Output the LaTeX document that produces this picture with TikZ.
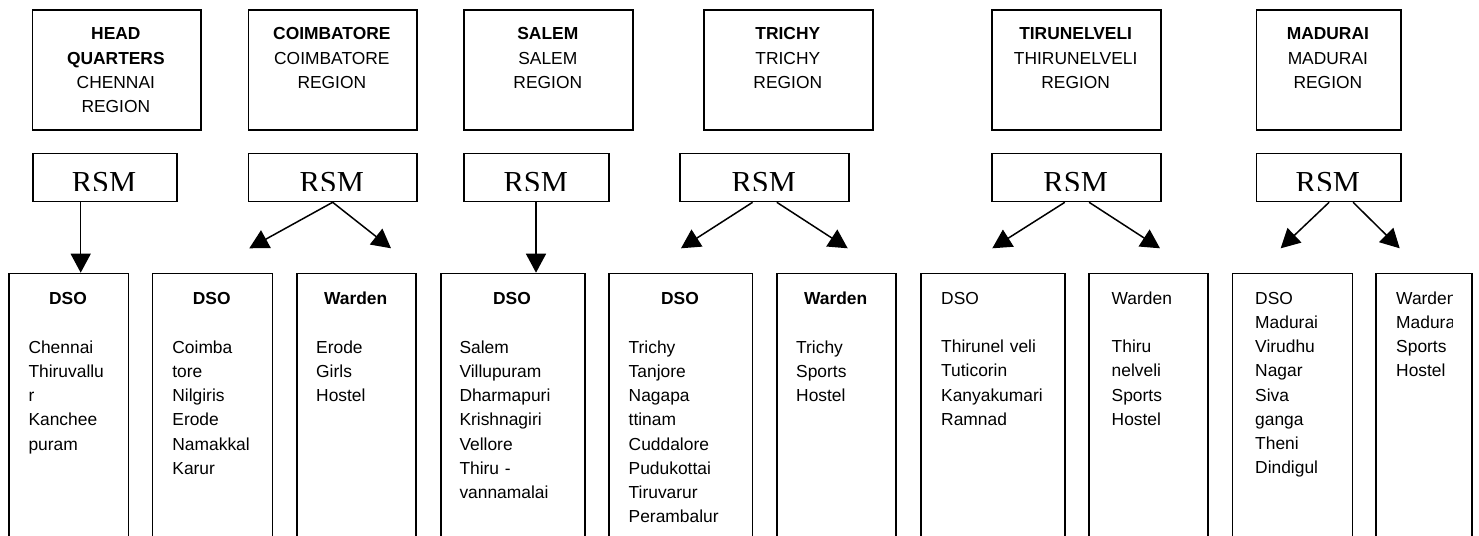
\documentclass[tikz,border=0pt]{standalone}
\usepackage{fontspec}
\setmainfont{Liberation Sans}
\newfontfamily\rsmfont{Liberation Serif}
\usetikzlibrary{arrows.meta}
\begin{document}
\begin{tikzpicture}[x=1pt,y=-1pt,
  box/.style={draw,line width=1.6pt,inner sep=0pt,anchor=north west},
  ttl/.style={inner sep=0pt,anchor=base,align=center,font=\fontsize{17.4}{24.2}\selectfont},
  lst/.style={inner sep=0pt,anchor=base west,align=left,text width=118pt,font=\fontsize{17.4}{24.2}\selectfont},
  hdr/.style={inner sep=0pt,anchor=base,font=\fontsize{17.4}{24.2}\selectfont\bfseries},
  rsmtext/.style={inner sep=0pt,anchor=base,font=\fontsize{30.5}{30.5}\selectfont\rsmfont},
  arr/.style={line width=1.5pt,-{Triangle[length=19pt,width=20pt]}}]

\useasboundingbox (0,0) rectangle (1479,535);
\clip (0,0) rectangle (1479,535);

% ---------- top region boxes ----------
\node[box,minimum width=168.3pt,minimum height=119.7pt] (t1) at (31.7,9.3) {};
\node[box,minimum width=168.3pt,minimum height=119.7pt] (t2) at (247.7,9.3) {};
\node[box,minimum width=169pt,minimum height=119.7pt] (t3) at (463.3,9.3) {};
\node[box,minimum width=169pt,minimum height=119.7pt] (t4) at (703.3,9.3) {};
\node[box,minimum width=168.7pt,minimum height=119.7pt] (t5) at (991.3,9.3) {};
\node[box,minimum width=144.3pt,minimum height=119.7pt] (t6) at (1255.7,9.3) {};

\node[ttl,text width=160pt] (t1t) at (115.85,40) {\textbf{HEAD}\\\textbf{QUARTERS}\\CHENNAI\\REGION};
\node[ttl,text width=160pt] (t2t) at (331.85,40) {\textbf{COIMBATORE}\\COIMBATORE\\REGION};
\node[ttl,text width=160pt] (t3t) at (547.8,40) {\textbf{SALEM}\\SALEM\\REGION};
\node[ttl,text width=160pt] (t4t) at (787.8,40) {\textbf{TRICHY}\\TRICHY\\REGION};
\node[ttl,text width=160pt] (t5t) at (1075.65,40) {\textbf{TIRUNELVELI}\\THIRUNELVELI\\REGION};
\node[ttl,text width=140pt] (t6t) at (1327.85,40) {\textbf{MADURAI}\\MADURAI\\REGION};

% ---------- RSM boxes ----------
\node[box,minimum width=144pt,minimum height=48pt] (r1) at (32,152.7) {};
\node[box,minimum width=168.3pt,minimum height=48pt] (r2) at (247.7,152.7) {};
\node[box,minimum width=145pt,minimum height=48pt] (r3) at (463.3,152.7) {};
\node[box,minimum width=169pt,minimum height=48pt] (r4) at (679.3,152.7) {};
\node[box,minimum width=168.7pt,minimum height=48pt] (r5) at (991.3,152.7) {};
\node[box,minimum width=144.3pt,minimum height=48pt] (r6) at (1255.7,152.7) {};

\begin{scope}
  \clip (0,150) rectangle (1479,190);
  \node[rsmtext] (r1t) at (104,192.9) {RSM};
  \node[rsmtext] (r2t) at (331.85,192.9) {RSM};
  \node[rsmtext] (r3t) at (535.8,192.9) {RSM};
  \node[rsmtext] (r4t) at (763.8,192.9) {RSM};
  \node[rsmtext] (r5t) at (1075.65,192.9) {RSM};
  \node[rsmtext] (r6t) at (1327.85,192.9) {RSM};
\end{scope}

% ---------- bottom boxes ----------
\node[box,minimum width=119.4pt,minimum height=300pt] (b1) at (8.3,272.7) {};
\node[box,minimum width=120pt,minimum height=300pt] (b2) at (151.7,272.7) {};
\node[box,minimum width=119.3pt,minimum height=300pt] (b3) at (296,272.7) {};
\node[box,minimum width=144pt,minimum height=300pt] (b4) at (440,272.7) {};
\node[box,minimum width=143.4pt,minimum height=300pt] (b5) at (608.3,272.7) {};
\node[box,minimum width=119.3pt,minimum height=300pt] (b6) at (776,272.7) {};
\node[box,minimum width=144pt,minimum height=300pt] (b7) at (920,272.7) {};
\node[box,minimum width=119pt,minimum height=300pt] (b8) at (1088.3,272.7) {};
\node[box,minimum width=120pt,minimum height=300pt] (b9) at (1231.7,272.7) {};
\node[box,minimum width=96pt,minimum height=300pt] (b10) at (1375,272.7) {};

\node[hdr] (b1h) at (68,304.3) {DSO};
\node[hdr] (b2h) at (211.7,304.3) {DSO};
\node[hdr] (b3h) at (355.65,304.3) {Warden};
\node[hdr] (b4h) at (512,304.3) {DSO};
\node[hdr] (b5h) at (680,304.3) {DSO};
\node[hdr] (b6h) at (835.65,304.3) {Warden};

\node[lst] (b1l) at (28.3,353.3) {Chennai\\Thiruvallu\\r\\Kanchee\\puram};
\node[lst] (b2l) at (172.2,353.3) {Coimba\\tore\\Nilgiris\\Erode\\Namakkal\\Karur};
\node[lst] (b3l) at (316,353.3) {Erode\\Girls\\Hostel};
\node[lst] (b4l) at (459.3,353.3) {Salem\\Villupuram\\Dharmapuri\\Krishnagiri\\Vellore\\Thiru -\\vannamalai};
\node[lst] (b5l) at (628.5,353.3) {Trichy\\Tanjore\\Nagapa\\ttinam\\Cuddalore\\Pudukottai\\Tiruvarur\\Perambalur};
\node[lst] (b6l) at (796,353.3) {Trichy\\Sports\\Hostel};
\node[lst] (b7l) at (941,304.3) {DSO\\[24.2pt]Thirunel veli\\Tuticorin\\Kanyakumari\\Ramnad};
\node[lst] (b8l) at (1111.5,304.3) {Warden\\[24.2pt]Thiru\\nelveli\\Sports\\Hostel};
\node[lst] (b9l) at (1255,304.3) {DSO\\Madurai\\Virudhu\\Nagar\\Siva\\ganga\\Theni\\Dindigul};
\begin{scope}
  \clip (1375,272.7) rectangle (1452,535);
  \node[lst] (b10l) at (1396,304.3) {Warden\\Madurai\\Sports\\Hostel};
\end{scope}

% ---------- arrows ----------
\coordinate (e1) at (80.7,272.7);
\coordinate (e2a) at (249.3,248.3);
\coordinate (e2b) at (391,248.3);
\coordinate (e3) at (536,272.7);
\coordinate (e4a) at (681,248.3);
\coordinate (e4b) at (847.7,248.3);
\coordinate (e5a) at (992.3,248.3);
\coordinate (e5b) at (1160,248.3);
\coordinate (e6a) at (1280.7,248.3);
\coordinate (e6b) at (1399.7,248.3);

\draw[arr] (r1.south -| e1) -- (e1);
\draw[arr] (r2.south) -- (e2a);
\draw[arr] (r2.south) -- (e2b);
\draw[arr] (r3.south -| e3) -- (e3);
\draw[arr] ([xshift=-12pt]r4.south) -- (e4a);
\draw[arr] ([xshift=12.2pt]r4.south) -- (e4b);
\draw[arr] ([xshift=-11.65pt]r5.south) -- (e5a);
\draw[arr] ([xshift=12.65pt]r5.south) -- (e5b);
\draw[arr] ([xshift=0.45pt]r6.south) -- (e6a);
\draw[arr] ([xshift=24.45pt]r6.south) -- (e6b);
\end{tikzpicture}
\end{document}
